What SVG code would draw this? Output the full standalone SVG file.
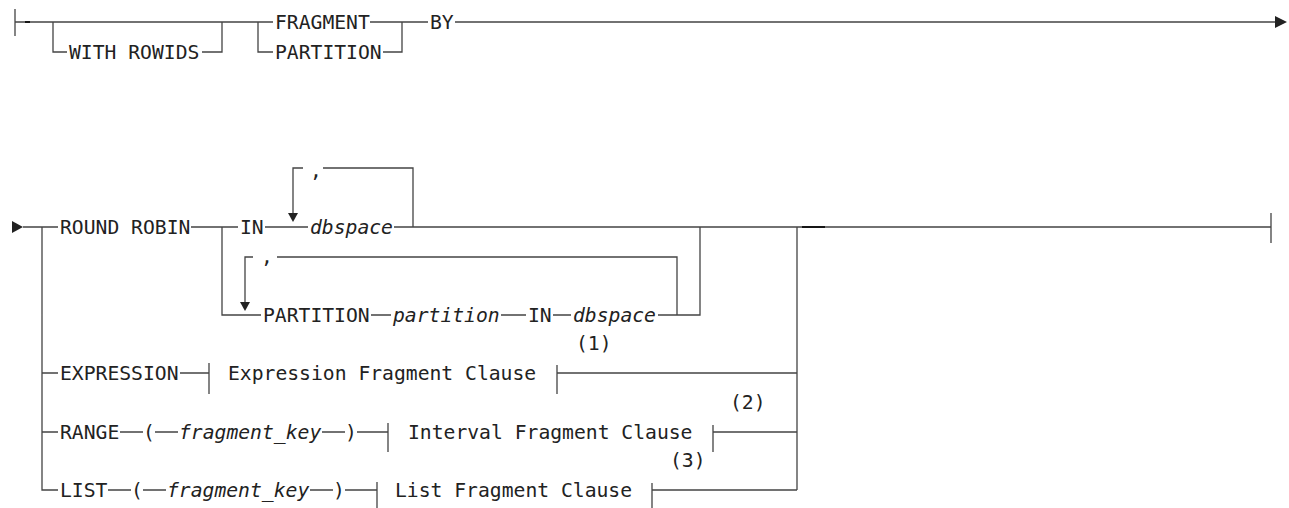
<svg xmlns="http://www.w3.org/2000/svg" width="1289" height="508" viewBox="0 0 1289 508">
<style>
.t{font-family:"DejaVu Sans Mono","Liberation Mono",monospace;font-size:19.7px;fill:#222}
.i{font-style:italic}
.l{fill:none;stroke:#444;stroke-width:1.3}
.d{fill:none;stroke:#111;stroke-width:1.9}
.a{fill:#222;stroke:none}
</style>
<rect width="1289" height="508" fill="#fff"/>
<g id="connectors">
<path class="l" d="M15,9V36M15,22H258M53,22V52H67M202,52H222V22"/>
<path class="d" d="M25,22H30"/>
<path class="l" d="M258,22H273M370,22H402M258,22V52H273M383,52H402V22M402,22H428M455,22H1276"/>
<polygon class="a" points="1275,16 1287,22 1275,28"/>
<polygon class="a" points="12,221 23,227 12,233"/>
<path class="l" d="M23,227H58M42,227V490H58M191,227H238M222,227V315H261M265,227H308"/>
<path class="l" d="M413,227V168H323M303,168H293V214"/>
<polygon class="a" points="288,213 298,213 293,222"/>
<path class="l" d="M394,227H1271M1271,213V243M797,227V490"/>
<path class="d" d="M802,227H825"/>
<path class="l" d="M677,315V257H277M253,257H245V302"/>
<polygon class="a" points="240,302 250,302 245,311"/>
<path class="l" d="M371,315H391M501,315H526M553,315H571M658,315H700V227"/>
<path class="l" d="M42,373H58M180,373H209M209,363V394M557,365V394M557,373H797"/>
<path class="l" d="M42,432H58M120,432H143M155,432H178M322,432H345M357,432H388M388,423V452M713,425V452M713,432H797"/>
<path class="l" d="M108,490H131M143,490H166M310,490H333M345,490H377M377,482V510M652,483V510M652,490H797"/>
</g>
<g id="n-start"><text class="t" x="69" y="59">WITH ROWIDS</text></g>
<g id="n-fragment"><text class="t" x="275" y="29">FRAGMENT</text></g>
<g id="n-partition"><text class="t" x="275" y="59">PARTITION</text></g>
<g id="n-by"><text class="t" x="430" y="29">BY</text></g>
<g id="n-roundrobin"><text class="t" x="60" y="234">ROUND ROBIN</text></g>
<g id="n-in1"><text class="t" x="240" y="234">IN</text></g>
<g id="n-comma1"><text class="t" x="310" y="177">,</text></g>
<g id="n-dbspace1"><text class="t i" x="310" y="234">dbspace</text></g>
<g id="n-comma2"><text class="t" x="261" y="263">,</text></g>
<g id="n-partition2"><text class="t" x="263" y="322">PARTITION</text></g>
<g id="n-partitionvar"><text class="t i" x="393" y="322">partition</text></g>
<g id="n-in2"><text class="t" x="528" y="322">IN</text></g>
<g id="n-dbspace2"><text class="t i" x="573" y="322">dbspace</text></g>
<g id="n-expression"><text class="t" x="60" y="380">EXPRESSION</text></g>
<g id="n-exprclause"><text class="t" x="228" y="380">Expression Fragment Clause</text></g>
<g id="n-note1"><text class="t" x="576" y="350">(1)</text></g>
<g id="n-range"><text class="t" x="60" y="439">RANGE</text><text class="t" x="143" y="439">(</text><text class="t i" x="179" y="439">fragment_key</text><text class="t" x="345" y="439">)</text></g>
<g id="n-intervalclause"><text class="t" x="408" y="439">Interval Fragment Clause</text></g>
<g id="n-note2"><text class="t" x="730" y="409">(2)</text></g>
<g id="n-list"><text class="t" x="60" y="497">LIST</text><text class="t" x="131" y="497">(</text><text class="t i" x="167" y="497">fragment_key</text><text class="t" x="333" y="497">)</text></g>
<g id="n-listclause"><text class="t" x="395" y="497">List Fragment Clause</text></g>
<g id="n-note3"><text class="t" x="670" y="467">(3)</text></g>
</svg>
